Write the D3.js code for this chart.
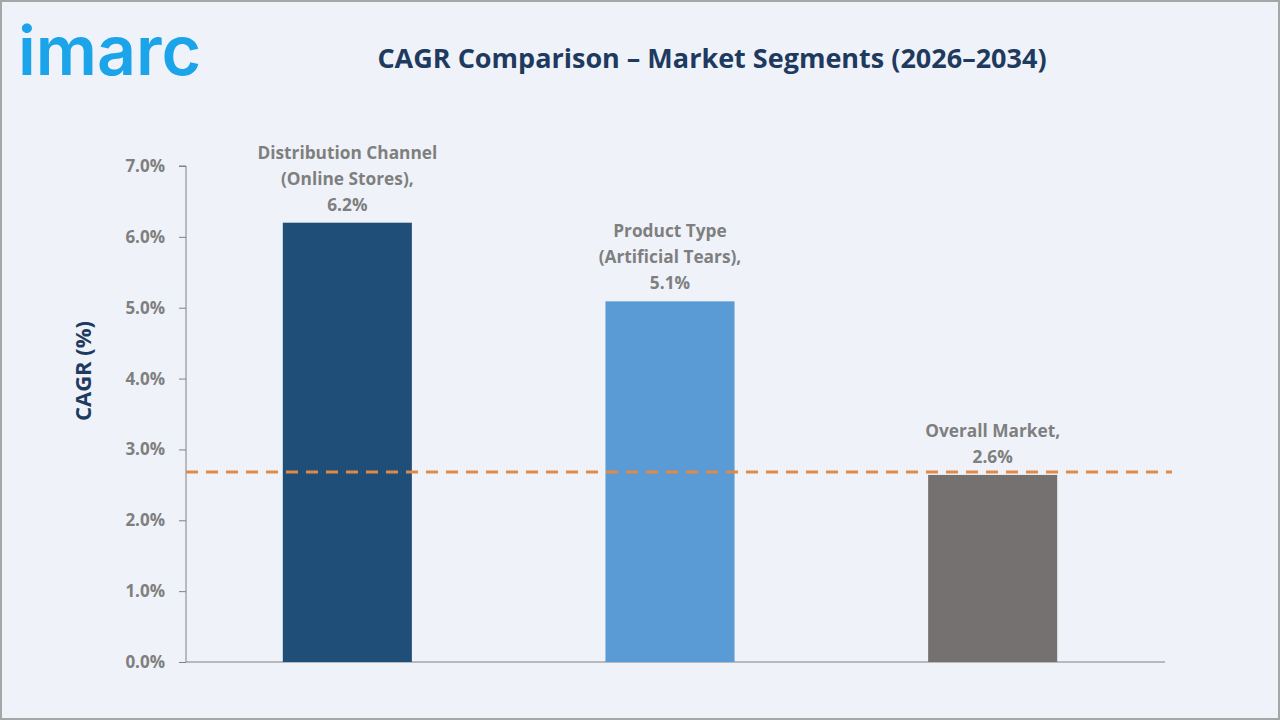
<!DOCTYPE html>
<html>
<head>
<meta charset="utf-8">
<script src="https://cdn.jsdelivr.net/npm/d3@7"></script>
<style>
  body { margin: 0; background: #ffffff; }
  svg { display: block; font-family: "Open Sans", "Noto Sans", sans-serif; }
</style>
</head>
<body>
<div id="chart"></div>
<script>
// chart data
const categories = ["Distribution Channel (Online Stores)", "Product Type (Artificial Tears)", "Overall Market"];
const labelLines = [
  ["Distribution Channel", "(Online Stores),", "6.2%"],
  ["Product Type", "(Artificial Tears),", "5.1%"],
  ["Overall Market,", "2.6%"]
];
const cagrValues = [6.2, 5.09, 2.64];
const referenceLine = 2.68;
const yTicks = [0, 1, 2, 3, 4, 5, 6, 7];
const barColors = ["#1f4e79", "#5b9bd5", "#767171"];

const W = 1280, H = 720;

let svg = d3.select("#chart")
  .append("svg")
  .attr("width", W)
  .attr("height", H);

svg.append("rect")
  .attr("x", 1).attr("y", 1)
  .attr("width", W - 2).attr("height", H - 2)
  .attr("fill", "#eff3f9")
  .attr("stroke", "#a6a6a6")
  .attr("stroke-width", 2);

// logo
svg.append("text")
  .attr("x", 18).attr("y", 75)
  .attr("fill", "#1ba4ea")
  .attr("font-family", "Inter, Lato, sans-serif")
  .attr("font-weight", 600)
  .attr("font-size", 68)
  .text("imarc");

// title
svg.append("text")
  .attr("x", 712).attr("y", 68)
  .attr("text-anchor", "middle")
  .attr("fill", "#1f3a5f")
  .attr("font-weight", 700)
  .attr("font-size", 27)
  .text("CAGR Comparison \u2013 Market Segments (2026\u20132034)");

let g = svg.append("g");

let y = d3.scaleLinear().domain([0, 7]).range([662, 166]);
let x = d3.scaleBand().domain(categories).range([186, 1154]).paddingInner(0.6).paddingOuter(0.3);

// y axis
let yAxis = g.append("g")
  .attr("transform", "translate(186,0)")
  .call(d3.axisLeft(y).tickValues(yTicks).tickSize(7).tickFormat(d => d.toFixed(1) + "%"));
yAxis.select(".domain").attr("stroke", "#808080").attr("d", "M-7,166H0V662");
yAxis.selectAll(".tick line").attr("stroke", "#808080");
yAxis.selectAll(".tick text")
  .attr("x", -21)
  .attr("fill", "#7f7f7f")
  .attr("font-size", 17)
  .attr("font-weight", 700)
  .attr("font-family", "Open Sans, sans-serif");

// x axis line
g.append("line")
  .attr("x1", 186).attr("x2", 1165)
  .attr("y1", y(0)).attr("y2", y(0))
  .attr("stroke", "#808080").attr("stroke-width", 1);

// bars
g.selectAll(".bar")
  .data(categories)
  .join("rect")
  .attr("class", "bar")
  .attr("x", d => x(d))
  .attr("width", x.bandwidth())
  .attr("y", (d, i) => y(cagrValues[i]))
  .attr("height", (d, i) => y(0) - y(cagrValues[i]))
  .attr("fill", (d, i) => barColors[i]);

// dashed reference
g.append("line")
  .attr("x1", 186).attr("x2", 1172)
  .attr("y1", y(referenceLine)).attr("y2", y(referenceLine))
  .attr("stroke", "#e08a48")
  .attr("stroke-width", 3)
  .attr("stroke-dasharray", "12,8");

// data labels
categories.forEach((c, i) => {
  let lines = labelLines[i];
  let cx = x(c) + x.bandwidth() / 2;
  let base = y(cagrValues[i]) - 12;
  let t = g.append("text")
    .attr("text-anchor", "middle")
    .attr("fill", "#7f7f7f")
    .attr("font-weight", 700)
    .attr("font-size", 17.3);
  lines.forEach((ln, k) => {
    t.append("tspan")
      .attr("x", cx)
      .attr("y", base - (lines.length - 1 - k) * 26)
      .text(ln);
  });
});

// y axis title
svg.append("text")
  .attr("transform", "translate(91,371) rotate(-90)")
  .attr("text-anchor", "middle")
  .attr("fill", "#1f3a5f")
  .attr("font-weight", 700)
  .attr("font-size", 22)
  .text("CAGR (%)");
</script>
</body>
</html>
